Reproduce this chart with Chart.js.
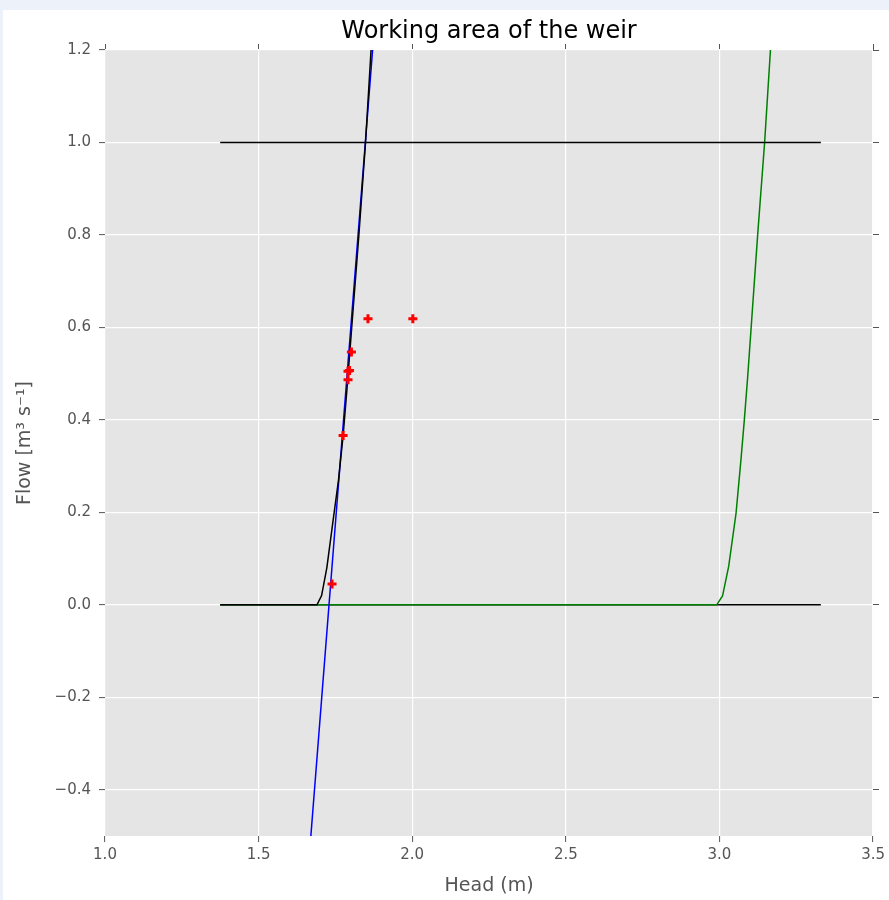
<!DOCTYPE html>
<html>
<head>
<meta charset="utf-8">
<script src="https://cdn.jsdelivr.net/npm/chart.js@4/dist/chart.umd.min.js"></script>
<style>
  html, body { margin: 0; padding: 0; background: #edf2fa; }
  #box { position: absolute; left: 3px; top: 10px; width: 886px; height: 890px; background: #ffffff; }
</style>
</head>
<body>
<div id="box"><canvas id="weir-chart" width="886" height="890"></canvas></div>
<script>
// tick positions
var xTicks = [1.0, 1.5, 2.0, 2.5, 3.0, 3.5];
var yTicks = [-0.4, -0.2, 0.0, 0.2, 0.4, 0.6, 0.8, 1.0, 1.2];

// measured points (red crosses)
var obsHead = [1.739, 1.775, 1.791, 1.791, 1.796, 1.802, 1.856, 2.002];
var obsFlow = [0.045, 0.366, 0.487, 0.505, 0.507, 0.547, 0.619, 0.619];

// fitted straight line (blue)
var fitHead = [1.670, 1.871];
var fitFlow = [-0.5, 1.2];

// rating curve (black)
var rateHead = [1.375, 1.690, 1.705, 1.722, 1.740, 1.760, 1.775, 1.788, 1.805, 1.826, 1.848, 1.866];
var rateFlow = [0.0, 0.0, 0.02, 0.08, 0.17, 0.27, 0.366, 0.47, 0.617, 0.797, 1.0, 1.2];

// second curve (green)
var greenHead = [1.375, 2.991, 3.010, 3.030, 3.054, 3.070, 3.081, 3.092, 3.105, 3.124, 3.147, 3.166];
var greenFlow = [0.0, 0.0, 0.019, 0.083, 0.198, 0.314, 0.400, 0.494, 0.617, 0.797, 1.0, 1.2];

// working limits (black horizontals)
var limitHead = [1.375, 3.33];
var limitLow = [0.0, 0.0];
var limitHigh = [1.0, 1.0];

function pts(xs, ys) {
    return xs.map(function (x, i) { return { x: x, y: ys[i] }; });
}

function fmt(v) {
    var s = Math.abs(v).toFixed(1);
    return v < -1e-9 ? '\u2212' + s : s;
}

var plotBg = {
    id: 'plotBg',
    beforeDraw: function (chart) {
        var a = chart.chartArea, c = chart.ctx;
        c.save();
        c.fillStyle = '#e5e5e5';
        c.fillRect(a.left, a.top, a.right - a.left, a.bottom - a.top);
        c.restore();
    }
};

function lineSet(xs, ys, color) {
    return {
        data: pts(xs, ys),
        showLine: true,
        borderColor: color,
        backgroundColor: color,
        borderWidth: 1.5,
        pointRadius: 0,
        tension: 0,
        fill: false
    };
}

var tickCol = '#555555';
var fontFam = "'DejaVu Sans', sans-serif";

// first dataset in the list is drawn on top
var configWeir = {
    type: 'scatter',
    data: {
        datasets: [
            {
                data: pts(obsHead, obsFlow),
                pointStyle: 'cross',
                pointRadius: 4.5,
                borderWidth: 3,
                borderColor: '#ff0000',
                backgroundColor: '#ff0000',
                showLine: false
            },
            lineSet(limitHead, limitHigh, '#000000'),
            lineSet(rateHead, rateFlow, '#000000'),
            lineSet(fitHead, fitFlow, '#0000ff'),
            lineSet(greenHead, greenFlow, '#008000'),
            lineSet(limitHead, limitLow, '#000000')
        ]
    },
    options: {
        responsive: false,
        animation: false,
        events: [],
        layout: { padding: 0 },
        plugins: {
            legend: { display: false },
            tooltip: { enabled: false },
            title: {
                display: true,
                text: 'Working area of the weir',
                fullSize: false,
                color: '#000000',
                font: { family: fontFam, size: 24, weight: 'normal', lineHeight: 1.0 },
                padding: { top: 10, bottom: 0 }
            }
        },
        scales: {
            x: {
                type: 'linear', position: 'bottom', min: 1.0, max: 3.5,
                afterBuildTicks: function (s) { s.ticks = xTicks.map(function (v) { return { value: v }; }); },
                afterFit: function (s) { s.height = 64; },
                grid: { color: '#ffffff', lineWidth: 1.2, tickColor: tickCol, tickLength: 6, tickWidth: 1 },
                border: { display: false },
                ticks: { color: tickCol, padding: 4, maxRotation: 0, font: { family: fontFam, size: 15 }, callback: fmt },
                title: { display: true, text: 'Head (m)', color: tickCol, font: { family: fontFam, size: 19 }, padding: { top: 0, bottom: 3 } }
            },
            x2: {
                type: 'linear', position: 'top', min: 1.0, max: 3.5,
                afterBuildTicks: function (s) { s.ticks = xTicks.map(function (v) { return { value: v }; }); },
                afterFit: function (s) { s.height = 6; },
                grid: { drawOnChartArea: false, tickColor: tickCol, tickLength: 6 },
                border: { display: false },
                ticks: { display: false }
            },
            y: {
                type: 'linear', position: 'left', min: -0.5, max: 1.2,
                afterBuildTicks: function (s) { s.ticks = yTicks.map(function (v) { return { value: v }; }); },
                afterFit: function (s) { s.width = 102; },
                grid: { color: '#ffffff', lineWidth: 1.2, tickColor: tickCol, tickLength: 6, tickWidth: 1 },
                border: { display: false },
                ticks: { color: tickCol, padding: 8, font: { family: fontFam, size: 15 }, callback: fmt },
                title: { display: true, text: 'Flow [m\u00b3 s\u207b\u00b9]', color: tickCol, font: { family: fontFam, size: 19 }, padding: { top: 11, bottom: 0 } }
            },
            y2: {
                type: 'linear', position: 'right', min: -0.5, max: 1.2,
                afterBuildTicks: function (s) { s.ticks = yTicks.map(function (v) { return { value: v }; }); },
                afterFit: function (s) { s.width = 15; },
                grid: { drawOnChartArea: false, tickColor: tickCol, tickLength: 6 },
                border: { display: false },
                ticks: { display: false }
            }
        }
    },
    plugins: [plotBg]
};

var ctxWeir = document.getElementById('weir-chart').getContext('2d');
var weirChart = new Chart(ctxWeir, configWeir);
</script>
</body>
</html>
